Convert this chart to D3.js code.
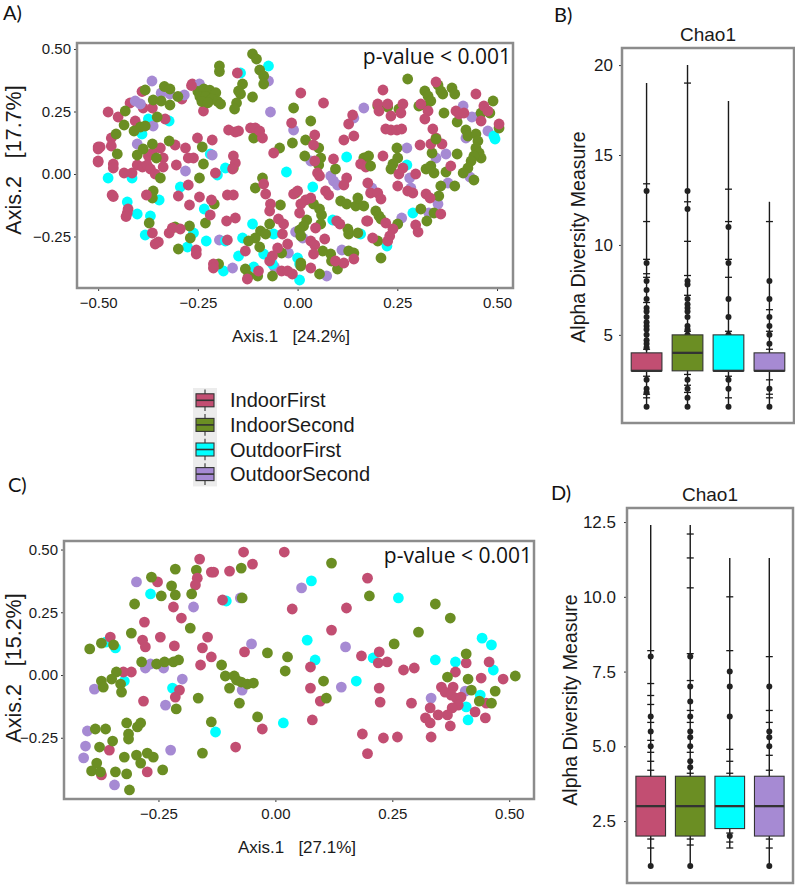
<!DOCTYPE html>
<html><head><meta charset="utf-8">
<script src="https://cdn.jsdelivr.net/npm/d3@7"></script>
<style>body{margin:0;background:#fff;} svg{display:block}</style>
</head><body>
<svg id="c" width="795" height="885"></svg>
<script>
const groups = ["IndoorFirst","IndoorSecond","OutdoorFirst","OutdoorSecond"];
const colors = ["#C24E72","#6B8E23","#00FFFF","#A68AD3"];

// ---------- Panel A (PCoA, Axis.1 24.2%, Axis.2 17.7%) ----------
const aIndoorFirst = [[-0.264,0.36],[-0.39,0.33],[-0.29,0.30],[-0.42,0.284],[-0.364,0.264],[-0.387,0.264],[-0.236,0.252],[-0.475,0.248],[-0.45,0.228],[-0.332,0.22],[-0.407,0.212],[-0.467,0.144],[-0.251,0.144],[-0.214,0.136],[-0.307,0.116],[-0.50,0.108],[-0.495,0.108],[-0.467,0.112],[-0.344,0.104],[-0.281,0.104],[-0.374,0.072],[-0.364,0.084],[-0.337,0.064],[-0.274,0.064],[-0.261,0.064],[-0.50,0.052],[-0.462,0.04],[-0.462,0.024],[-0.402,0.036],[-0.389,0.028],[-0.377,0.036],[-0.369,0.02],[-0.357,0.0],[-0.337,0.028],[-0.304,0.036],[-0.435,0.004],[-0.415,0.004],[-0.206,0.004],[-0.274,-0.044],[-0.379,-0.084],[-0.465,-0.084],[-0.299,-0.088],[-0.246,-0.092],[-0.216,-0.104],[-0.271,-0.124],[-0.427,-0.156],[-0.425,-0.14],[-0.219,-0.164],[-0.314,-0.216],[-0.294,-0.22],[-0.364,-0.236],[-0.349,-0.272],[-0.254,-0.304],[-0.211,-0.36],[-0.266,0.354],[-0.5,0.1],[-0.5,0.048],[-0.462,-0.09],[-0.43,-0.17],[-0.357,-0.28],[-0.322,-0.236],[-0.254,-0.32],[-0.211,-0.376],
[-0.151,0.404],[0.008,0.324],[0.065,0.284],[0.138,0.236],[0.128,0.2],[-0.015,0.204],[-0.173,0.176],[-0.156,0.168],[-0.148,0.172],[-0.118,0.184],[-0.106,0.184],[-0.095,0.172],[-0.088,0.144],[0.043,0.156],[0.116,0.136],[0.141,0.152],[0.04,0.116],[-0.06,0.084],[0.09,0.06],[0.043,0.052],[0.158,0.04],[0.171,0.028],[0.05,0.004],[0.055,-0.008],[0.123,-0.016],[0.116,-0.044],[-0.161,0.072],[-0.156,0.044],[-0.163,0.02],[-0.176,-0.084],[-0.161,-0.084],[-0.085,-0.04],[-0.08,-0.08],[-0.068,-0.12],[-0.01,-0.08],[0.0,-0.068],[0.02,-0.104],[0.033,-0.096],[0.008,-0.12],[0.07,-0.068],[0.078,-0.084],[-0.07,-0.148],[-0.178,-0.188],[-0.156,-0.176],[-0.048,-0.18],[-0.035,-0.2],[0.005,-0.156],[0.098,-0.188],[0.106,-0.2],[0.173,-0.188],[0.045,-0.216],[-0.038,-0.24],[-0.176,-0.264],[-0.025,-0.28],[0.033,-0.268],[0.043,-0.284],[0.068,-0.26],[0.141,-0.34],[0.116,-0.356],[0.04,-0.32],[0.033,-0.376],[-0.05,-0.296],[-0.063,-0.328],[-0.07,-0.348],[-0.131,-0.308],[-0.098,-0.388],[-0.126,-0.42],[-0.04,-0.388],[-0.025,-0.388],[-0.013,-0.40],[0.095,-0.348],
[0.214,0.336],[0.347,0.368],[0.447,0.32],[0.201,0.28],[0.226,0.28],[0.204,0.252],[0.264,0.28],[0.259,0.244],[0.234,0.232],[0.309,0.28],[0.327,0.252],[0.319,0.22],[0.397,0.252],[0.405,0.24],[0.417,0.244],[0.467,0.272],[0.477,0.252],[0.505,0.2],[0.46,0.212],[0.339,0.18],[0.347,0.144],[0.221,0.18],[0.234,0.176],[0.249,0.176],[0.261,0.18],[0.307,0.116],[0.334,0.12],[0.362,0.12],[0.214,0.072],[0.264,0.024],[0.254,0.0],[0.296,0.0],[0.384,0.032],[0.251,-0.048],[0.176,-0.036],[0.183,-0.076],[0.201,-0.076],[0.209,-0.1],[0.276,-0.068],[0.289,-0.076],[0.322,-0.08],[0.332,-0.096],[0.359,-0.16],[0.296,-0.204],[0.302,-0.232],[0.221,-0.196],[0.239,-0.22],[0.231,-0.248],[0.226,-0.268],[0.176,-0.188],[0.188,-0.256]];
const aIndoorSecond = [[-0.196,0.432],[-0.196,0.41],[-0.25,0.33],[-0.235,0.34],[-0.22,0.335],[-0.205,0.325],[-0.245,0.31],[-0.23,0.31],[-0.215,0.30],[-0.24,0.29],[-0.225,0.285],[-0.2,0.29],[-0.334,0.35],[-0.32,0.34],[-0.382,0.336],[-0.30,0.31],[-0.362,0.296],[-0.342,0.292],[-0.32,0.276],[-0.432,0.252],[-0.352,0.228],[-0.435,0.196],[-0.394,0.188],[-0.382,0.192],[-0.41,0.172],[-0.455,0.16],[-0.322,0.132],[-0.364,0.12],[-0.387,0.10],[-0.239,0.108],[-0.452,0.08],[-0.402,0.076],[-0.354,0.064],[-0.236,0.04],[-0.344,-0.016],[-0.246,-0.016],[-0.362,-0.068],[-0.364,-0.096],[-0.209,-0.12],[-0.372,-0.196],[-0.231,-0.196],[-0.307,-0.212],[-0.271,-0.208],[-0.269,-0.256],[-0.299,-0.30],[-0.198,-0.36],
[-0.113,0.48],[-0.103,0.46],[-0.095,0.416],[-0.085,0.392],[-0.085,0.36],[-0.138,0.36],[-0.148,0.332],[-0.143,0.32],[-0.113,0.308],[-0.153,0.284],[-0.158,0.26],[-0.193,0.28],[-0.01,0.264],[0.033,0.212],[-0.11,0.144],[-0.013,0.124],[0.02,0.136],[0.053,0.104],[-0.045,0.104],[0.018,0.072],[0.058,0.064],[0.053,0.036],[0.166,0.064],[0.176,0.036],[0.095,0.02],[-0.161,0.024],[-0.088,-0.016],[-0.106,-0.056],[-0.043,-0.124],[-0.005,-0.076],[0.04,-0.12],[0.055,-0.14],[0.06,-0.164],[0.108,-0.108],[0.123,-0.12],[0.146,-0.128],[0.166,-0.128],[0.151,-0.096],[-0.07,-0.2],[0.023,-0.184],[0.015,-0.208],[0.058,-0.2],[0.126,-0.22],[0.128,-0.24],[0.151,-0.236],[0.005,-0.224],[0.008,-0.248],[-0.093,-0.228],[-0.08,-0.24],[-0.106,-0.256],[-0.123,-0.268],[0.128,-0.308],[0.141,-0.316],[0.083,-0.32],[0.085,-0.348],[0.063,-0.308],[0.008,-0.356],[-0.04,-0.316],[-0.095,-0.292],[-0.131,-0.38],[-0.123,-0.408],[-0.1,-0.408],[-0.063,-0.408],[0.008,-0.368],[0.055,-0.40],[0.1,-0.38],
[0.276,0.38],[0.352,0.356],[0.359,0.332],[0.364,0.32],[0.319,0.332],[0.327,0.312],[0.334,0.292],[0.322,0.272],[0.387,0.344],[0.394,0.32],[0.49,0.292],[0.201,0.272],[0.226,0.268],[0.254,0.26],[0.304,0.272],[0.367,0.244],[0.46,0.244],[0.482,0.244],[0.505,0.184],[0.4,0.208],[0.422,0.176],[0.427,0.152],[0.447,0.16],[0.452,0.132],[0.447,0.104],[0.455,0.084],[0.46,0.064],[0.442,0.072],[0.435,0.052],[0.427,0.024],[0.249,0.104],[0.337,0.084],[0.4,0.08],[0.251,0.064],[0.239,0.04],[0.234,0.02],[0.178,0.072],[0.183,0.032],[0.322,0.02],[0.334,0.032],[0.342,0.004],[0.372,0.008],[0.394,-0.048],[0.442,-0.024],[0.415,0.004],[0.359,-0.048],[0.354,-0.088],[0.342,-0.156],[0.324,-0.188],[0.309,-0.14],[0.251,-0.2],[0.196,-0.148],[0.204,-0.168],[0.209,-0.18],[0.201,-0.268],[0.209,-0.336],[0.347,0.14]];
const aOutdoorFirst = [[-0.322,0.212],[-0.374,0.22],[-0.39,0.16],[-0.219,0.08],[-0.201,-0.004],[-0.475,-0.016],[-0.415,-0.016],[-0.294,-0.052],[-0.347,-0.104],[-0.427,-0.112],[-0.234,-0.14],[-0.402,-0.16],[-0.369,-0.168],[-0.261,-0.236],[-0.382,-0.244],[-0.229,-0.268],[-0.276,-0.292],[-0.186,-0.388],
[-0.073,0.432],[-0.143,0.404],[0.123,0.068],[-0.028,0.008],[0.038,-0.052],[-0.181,0.024],[-0.113,-0.2],[0.088,-0.184],[0.158,-0.24],[-0.06,-0.24],[-0.138,-0.256],[-0.181,-0.268],[-0.085,-0.32],[-0.148,-0.328],[0.0,-0.336],[0.005,-0.36],[-0.063,-0.36],[-0.11,-0.372],[0.005,-0.424],
[0.492,0.152],[0.274,0.036],[0.289,-0.156],[0.224,-0.288],[0.495,0.14]];
const aOutdoorSecond = [[-0.365,0.372],[-0.246,0.36],[-0.342,0.324],[-0.32,0.32],[-0.284,0.316],[-0.407,0.292],[-0.394,0.28],[-0.362,0.192],[-0.402,0.12],[-0.214,0.076],[-0.281,0.012],[-0.196,-0.264],
[-0.073,0.372],[-0.068,0.248],[0.166,0.264],[0.141,0.224],[-0.01,0.176],[0.033,0.052],[0.083,-0.008],[0.09,-0.028],[0.1,-0.044],[-0.005,-0.232],[0.013,-0.256],[0.111,-0.304],[-0.023,-0.316],[-0.058,-0.372],[-0.163,-0.376],[0.073,-0.408],
[0.415,0.272],[0.437,0.228],[0.455,0.232],[0.422,0.144],[0.477,0.172],[0.274,0.104],[0.372,0.08],[0.347,0.064],[0.281,-0.016],[0.284,-0.056],[0.377,-0.036],[0.432,-0.012],[0.186,-0.056],[0.352,-0.12],[0.329,-0.156],[0.261,-0.176]];

// ---------- Panel C (PCoA, Axis.1 27.1%, Axis.2 15.2%) ----------
const cIndoorFirst = [[-0.162,0.462],[-0.137,0.41],[-0.252,0.371],[-0.167,0.386],[-0.171,0.359],[-0.218,0.271],[-0.201,0.227],[-0.28,0.211],[-0.246,0.151],[-0.353,0.151],[-0.284,0.139],[-0.278,0.112],[-0.216,0.116],[-0.145,0.151],[-0.156,0.108],[-0.137,0.072],[-0.16,0.04],[-0.308,0.012],[-0.325,0.012],[-0.205,-0.06],[-0.214,-0.088],[-0.282,-0.104],[-0.355,-0.299],[-0.372,-0.398],[-0.274,-0.386],
[-0.068,0.49],[0.019,0.49],[-0.132,0.41],[-0.098,0.414],[-0.049,0.442],[-0.113,0.299],[0.036,0.263],[0.152,0.267],[0.12,0.179],[-0.066,0.092],[0.184,0.076],[0.075,0.032],[0.075,-0.052],[0.096,-0.104],[-0.028,-0.215],[0.079,-0.179],[-0.085,-0.287],[0.186,-0.235],
[0.197,0.386],[0.222,0.092],[0.22,0.048],[0.239,0.052],[0.274,0.02],[0.297,0.028],[0.408,0.048],[0.457,0.052],[0.385,0.012],[0.487,-0.016],[0.222,-0.052],[0.224,-0.108],[0.291,-0.112],[0.355,-0.048],[0.38,-0.048],[0.363,-0.068],[0.376,-0.08],[0.387,-0.092],[0.397,-0.088],[0.44,-0.012],[0.451,-0.112],[0.427,-0.147],[0.449,-0.171],[0.391,-0.12],[0.378,-0.131],[0.368,-0.159],[0.348,-0.159],[0.331,-0.131],[0.321,-0.171],[0.331,-0.191],[0.374,-0.203],[0.333,-0.247],[0.231,-0.251],[0.261,-0.247],[0.197,-0.313]];
const cIndoorSecond = [[-0.214,0.422],[-0.169,0.418],[-0.265,0.39],[-0.244,0.315],[-0.222,0.355],[-0.214,0.319],[-0.179,0.323],[-0.301,0.283],[-0.182,0.187],[-0.308,0.167],[-0.372,0.127],[-0.346,0.12],[-0.397,0.104],[-0.286,0.052],[-0.254,0.044],[-0.237,0.052],[-0.218,0.052],[-0.207,0.06],[-0.34,0.012],[-0.35,-0.016],[-0.372,-0.024],[-0.368,-0.048],[-0.331,-0.036],[-0.329,-0.068],[-0.212,-0.135],[-0.165,-0.092],[-0.318,-0.191],[-0.295,-0.207],[-0.288,-0.191],[-0.314,-0.235],[-0.314,-0.255],[-0.363,-0.215],[-0.385,-0.215],[-0.348,-0.263],[-0.376,-0.287],[-0.156,-0.311],[-0.323,-0.327],[-0.297,-0.319],[-0.274,-0.311],[-0.261,-0.327],[-0.288,-0.351],[-0.382,-0.351],[-0.393,-0.382],[-0.374,-0.386],[-0.342,-0.386],[-0.318,-0.394],[-0.241,-0.378],[-0.312,-0.458],
[-0.073,0.426],[0.12,0.446],[-0.071,0.307],[-0.017,0.088],[0.026,0.072],[-0.115,0.04],[0.021,0.016],[-0.107,-0.004],[-0.088,-0.004],[-0.098,-0.052],[-0.083,-0.02],[-0.073,-0.028],[-0.06,-0.036],[-0.047,-0.032],[-0.077,-0.112],[0.103,-0.024],[0.109,-0.092],[-0.038,-0.167],[-0.137,-0.187],
[0.201,0.315],[0.342,0.283],[0.374,0.227],[0.306,0.171],[0.254,0.124],[0.408,0.084],[0.513,-0.004],[0.368,-0.008],[0.412,-0.016],[0.419,-0.06],[0.47,-0.064],[0.436,-0.104],[0.462,-0.112]];
const cOutdoorFirst = [[-0.267,0.323],[-0.363,0.131],[-0.342,0.108],[-0.323,-0.024],[-0.22,-0.052],[0.077,0.375],[-0.105,0.295],[0.068,0.139],[0.085,0.06],[0.173,-0.024],[-0.128,-0.227],[0.017,-0.191],[0.263,0.307],[0.442,0.147],[0.462,0.12],[0.209,0.068],[0.342,0.06],[0.385,0.052],[0.466,0.02],[0.438,-0.08],[0.408,-0.127],[0.412,-0.179]];
const cOutdoorSecond = [[-0.297,0.371],[-0.175,0.271],[-0.278,0.028],[-0.267,0.044],[-0.239,0.028],[-0.387,-0.056],[-0.199,-0.016],[-0.235,-0.12],[-0.402,-0.223],[-0.406,-0.283],[-0.224,-0.299],[-0.344,-0.438],[-0.41,-0.33],[0.056,0.347],[-0.075,0.307],[-0.051,0.124],[0.15,0.112],[-0.071,-0.06],[0.141,-0.048],[0.333,-0.092],[0.406,-0.064]];

const pcoaTicks = [-0.5,-0.25,0,0.25,0.5];

// ---------- Panel B (Chao1) : [min, q1, median, q3, max] ----------
const bStats = [[1,3,3,4,19],[1,3,4,5,20],[1,3,3,5,18],[1,3,3,4,12.4]];
const bOutliers = [
  [13,9,8,7.5,7,6.5,6.3,6,5.7,5.5,5.3,5,4.7,4.5,4.3,2.5,2,1.8,1],
  [13,12,8,7.8,7,6.7,6.5,6.3,6,5.5,5.3,5,4.5,2.5,2,1.5,1],
  [11,9,7,6,5,2.5,2,1],
  [8,7,6,5.5,5,4.5,2,1]];
const bMarks = [
  [13.4,11.3,9.2,8.4,8.2,6.8,4.2,2.7,1.7,1.5],
  [19,12.4,10.2,8.3,7.2,5.2,2.8,2.2,1.8],
  [13.1,11.3,9.2,8.2,5.2,2.7,1.5],
  [11.3,6.4,5.2,4.2,2.5,1.7,1.5]];
const bTicks = [5,10,15,20];

// ---------- Panel D (Chao1) ----------
const dStats = [[1,2,3,4,12.4],[1,2,3,4,12.4],[1.6,2.25,3,4,11.3],[1,2,3,4,11.3]];
const dOutliers = [
  [8,6,5.5,5,1],
  [8,7,6.5,6,5.5,5.3,5,4.5,4.3,1],
  [7.5,7,6,2],
  [7,5.5,5.3,5,1]];
const dMarks = [
  [8.2,7.1,6.7,6.4,5.8,5.2,4.8,4.5,4.2,1.9,1.6],
  [12.1,11.3,10.3,8.1,7.2,6.2,5.8,4.8,4.1,1.9,1.7],
  [10.0,8.2,4.9,4.5,4.1,2.1,1.8,1.6],
  [8.0,6.2,5.8,4.7,4.2,1.9,1.6]];
const dTicks = [2.5,5,7.5,10,12.5];

const fontMain = "'Liberation Sans', Arial, Helvetica, sans-serif";
const fontHum = "'Open Sans', 'Noto Sans', sans-serif";
const fontLab = "Lato, 'Open Sans', sans-serif";
const svg = d3.select("#c");
svg.append("rect").attr("width",795).attr("height",885).attr("fill","#fff");

function styleAxis(a, size){
  a.select(".domain").remove();
  a.selectAll("line").attr("stroke","#333").attr("stroke-width",1);
  a.selectAll("text").attr("font-family",fontMain).attr("font-size",size).attr("fill","#1a1a1a");
}

function drawScatter(o){
  const g = svg.append("g");
  const [x0,x1] = o.x.range(), [yb,yt] = o.y.range();
  g.append("clipPath").attr("id",o.id).append("rect")
    .attr("x",x0).attr("y",yt).attr("width",x1-x0).attr("height",yb-yt);
  const pts = [];
  const n = d3.max(o.series, s=>s.length);
  for(let i=0;i<n;i++) o.series.forEach((s,k)=>{ if(i<s.length) pts.push({x:s[i][0],y:s[i][1],k}); });
  g.append("g").attr("clip-path",`url(#${o.id})`).selectAll("circle").data(pts).join("circle")
    .attr("cx",d=>o.x(d.x)).attr("cy",d=>o.y(d.y)).attr("r",5.4).attr("fill",d=>colors[d.k]);
  const ax = g.append("g").attr("transform",`translate(0,${yb})`)
    .call(d3.axisBottom(o.x).tickValues(o.xticks).tickFormat(d3.format(".2f")).tickSize(3).tickPadding(6));
  const ay = g.append("g").attr("transform",`translate(${x0},0)`)
    .call(d3.axisLeft(o.y).tickValues(o.yticks).tickFormat(d3.format(".2f")).tickSize(3).tickPadding(3));
  styleAxis(ax,15); styleAxis(ay,15);
  g.append("rect").attr("x",x0).attr("y",yt).attr("width",x1-x0).attr("height",yb-yt)
    .attr("fill","none").attr("stroke","#8c8c8c").attr("stroke-width",2.5);
  g.append("text").attr("x",o.xtitle[0]).attr("y",o.xtitle[1]).attr("text-anchor","middle")
    .attr("font-family",fontMain).attr("font-size",17).attr("fill","#1a1a1a").style("white-space","pre")
    .text(o.xlab);
  g.append("text").attr("transform",`translate(${o.ytitle[0]},${o.ytitle[1]}) rotate(-90)`).attr("text-anchor","middle")
    .attr("font-family",fontMain).attr("font-size",21.5).attr("fill","#1a1a1a").style("white-space","pre")
    .text(o.ylab);
  g.append("text").attr("x",x1-2).attr("y",o.pY).attr("text-anchor","end")
    .attr("font-family",fontHum).attr("font-size",21).attr("fill","#111").text("p-value < 0.001");
}

function drawBox(o){
  const g = svg.append("g");
  const [x0,x1] = o.x.range(), [yb,yt] = o.y.range();
  const bw = o.x.step()*0.75;
  groups.forEach((name,i)=>{
    const cx = o.x(name), s = o.stats[i];
    g.append("line").attr("x1",cx).attr("x2",cx).attr("y1",o.y(s[0])).attr("y2",o.y(s[4]))
      .attr("stroke","#1a1a1a").attr("stroke-width",1.4);
    g.selectAll(null).data(o.marks[i]).join("line")
      .attr("x1",cx-3.5).attr("x2",cx+3.5).attr("y1",d=>o.y(d)).attr("y2",d=>o.y(d))
      .attr("stroke","#1a1a1a").attr("stroke-width",1.3);
    g.selectAll(null).data(o.outliers[i]).join("circle")
      .attr("cx",cx).attr("cy",d=>o.y(d)).attr("r",3).attr("fill","#222");
    g.append("rect").attr("x",cx-bw/2).attr("width",bw).attr("y",o.y(s[3])).attr("height",o.y(s[1])-o.y(s[3]))
      .attr("fill",colors[i]).attr("stroke","#333").attr("stroke-width",1.1);
    g.append("line").attr("x1",cx-bw/2).attr("x2",cx+bw/2).attr("y1",o.y(s[2])).attr("y2",o.y(s[2]))
      .attr("stroke","#333").attr("stroke-width",2.3);
  });
  const ay = g.append("g").attr("transform",`translate(${x0},0)`)
    .call(d3.axisLeft(o.y).tickValues(o.ticks).tickFormat(d3.format(o.fmt)).tickSize(3).tickPadding(o.pad));
  styleAxis(ay,17);
  g.append("rect").attr("x",x0).attr("y",yt).attr("width",x1-x0).attr("height",yb-yt)
    .attr("fill","none").attr("stroke","#8c8c8c").attr("stroke-width",2.5);
  g.append("text").attr("x",(x0+x1)/2).attr("y",o.titleY).attr("text-anchor","middle")
    .attr("font-family",fontMain).attr("font-size",19).attr("fill","#1a1a1a").text("Chao1");
  g.append("text").attr("transform",`translate(${o.ylabPos[0]},${o.ylabPos[1]}) rotate(-90)`).attr("text-anchor","middle")
    .attr("font-family",fontMain).attr("font-size",19.5).attr("fill","#1a1a1a").text("Alpha Diversity Measure");
}

// Panel A
drawScatter({
  id:"clipA",
  x: d3.scaleLinear().domain([-0.553,0.54]).range([77,513]),
  y: d3.scaleLinear().domain([-0.456,0.524]).range([288,43]),
  series:[aIndoorFirst,aIndoorSecond,aOutdoorFirst,aOutdoorSecond],
  xticks:pcoaTicks, yticks:[-0.25,0,0.25,0.5],
  xlab:"Axis.1   [24.2%]", xtitle:[291,342],
  ylab:"Axis.2   [17.7%]", ytitle:[21,160],
  pY:64
});
// Panel C
drawScatter({
  id:"clipC",
  x: d3.scaleLinear().domain([-0.452,0.553]).range([64,534]),
  y: d3.scaleLinear().domain([-0.494,0.534]).range([799,541]),
  series:[cIndoorFirst,cIndoorSecond,cOutdoorFirst,cOutdoorSecond],
  xticks:[-0.25,0,0.25,0.5], yticks:[-0.25,0,0.25,0.5],
  xlab:"Axis.1   [27.1%]", xtitle:[297,853],
  ylab:"Axis.2   [15.2%]", ytitle:[21,668],
  pY:563
});
// Panel B
drawBox({
  x: d3.scalePoint().domain(groups).range([622,794]).padding(0.6),
  y: d3.scaleLinear().domain([0.1,20.95]).range([423,48]),
  stats:bStats, outliers:bOutliers, marks:bMarks, ticks:bTicks, fmt:"d", pad:6,
  titleY:41, ylabPos:[585,237]
});
// Panel D
drawBox({
  x: d3.scalePoint().domain(groups).range([627,793]).padding(0.6),
  y: d3.scaleLinear().domain([0.43,12.97]).range([883,508]),
  stats:dStats, outliers:dOutliers, marks:dMarks, ticks:dTicks, fmt:".1f", pad:8,
  titleY:501, ylabPos:[577,700]
});

// Legend
const leg = svg.append("g");
const keyH = 24.6, legTop = 388;
leg.append("rect").attr("x",193).attr("y",legTop).attr("width",24).attr("height",keyH*4).attr("fill","#ececec");
groups.forEach((name,i)=>{
  const cy = legTop + keyH*i + keyH/2;
  leg.append("line").attr("x1",205).attr("x2",205).attr("y1",cy-keyH/2+1.5).attr("y2",cy+keyH/2-1.5)
    .attr("stroke","#333").attr("stroke-width",1.1);
  leg.append("rect").attr("x",196).attr("y",cy-6.5).attr("width",18).attr("height",13)
    .attr("fill",colors[i]).attr("stroke","#333").attr("stroke-width",1.1);
  leg.append("line").attr("x1",196).attr("x2",214).attr("y1",cy).attr("y2",cy)
    .attr("stroke","#333").attr("stroke-width",1.6);
  leg.append("text").attr("x",230).attr("y",cy+7).attr("font-family",fontMain).attr("font-size",20)
    .attr("fill","#1a1a1a").text(name);
});

// Panel letters
[["A)",3,20],["B)",554,22],["C)",8,492],["D)",551,500]].forEach(([t,x,y])=>{
  svg.append("text").attr("x",x).attr("y",y).attr("font-family",fontLab).attr("font-size",20)
    .attr("fill","#111").text(t);
});
</script>
</body></html>
